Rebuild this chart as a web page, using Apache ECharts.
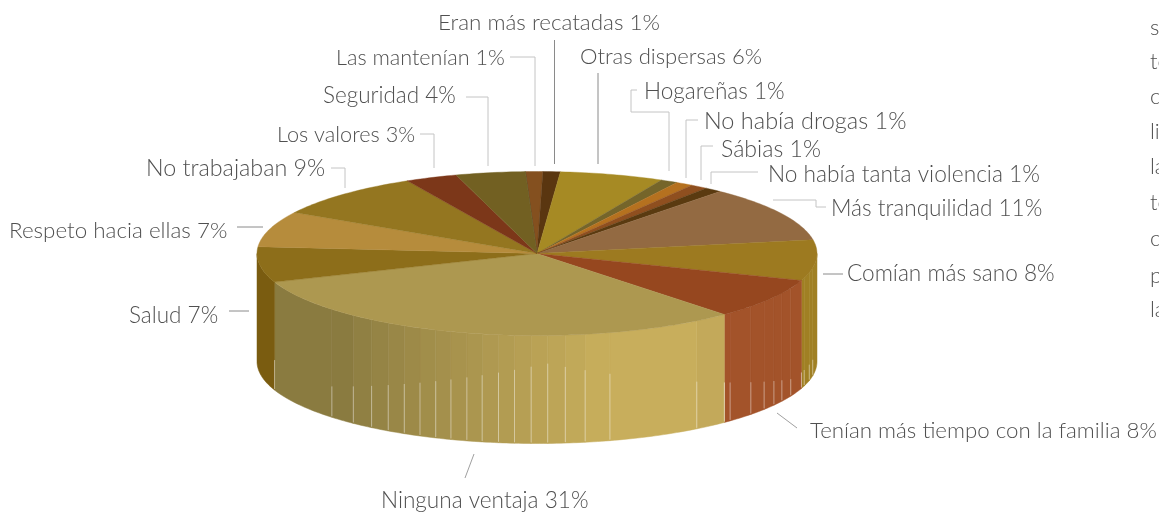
<!DOCTYPE html>
<html><head><meta charset="utf-8">
<style>html,body{margin:0;padding:0;background:#fff;overflow:hidden}#c{width:1159px;height:513px}</style>
<script src="https://cdn.jsdelivr.net/npm/echarts@6/dist/echarts.min.js"></script>
</head><body><div id="c"></div>
<script>
// ---- data (clockwise, starting just left of the top of the pie)
const categories = ['Las mantenían','Eran más recatadas','Otras dispersas','Hogareñas','No había drogas','Sábias','No había tanta violencia','Más tranquilidad','Comían más sano','Tenían más tiempo con la familia','Ninguna ventaja','Salud','Respeto hacia ellas','No trabajaban','Los valores','Seguridad'];
const percents = [1,1,6,1,1,1,1,11,8,8,31,7,7,9,3,4];
// ---- styles
const topColors = ['#84501f','#5a3610','#a68a24','#75652a','#b5711f','#8f4f1f','#5a3a10','#936a42','#9d7a20','#96471f','#ad9850','#8d6e1a','#b68c3c','#947620','#7c3719','#726022'];
const wallColors = ['#84501f','#5a3610','#a68a24','#75652a','#b5711f','#8f4f1f','#5a3a10','#936a42','#a08024','#a3532a',null,'#7a5c10','#b68c3c','#947620','#7c3719','#726022'];
// ---- 3D pie geometry
const CX=537, CY=253.5, RX=280, RY=82, DEPTH=108, START=-2.4;
const facetBreaks=[100,103.5,107.4,115,119,122.2,125.8,130.2,136.4,145.2,164.9,170.1,174.2,177.8,181.2,184.6,187.9,191.3,194.5,197.9,201.2,204.7,208.3,212.1,216.2,221,227.1];
// ---- label layout
const labelPos=[[336,58],[438,23],[580,57],[644,92],[704,121],[721,150],[768,175],[831,209],[847,274],[810,431],[381,501],[129,316],[9,231],[146,168],[277,135],[323,96]];
const labelSize=[21.6,22.4,22.1,22.6,23.5,23.1,22.7,22.6,22.6,22.3,22.6,22.5,22.4,23.3,21.7,22.5];
const leaders=[
 [[510,57],[535,57],[535,166],'#c4c4c4'],
 [[554.5,40],[554.5,164],'#8a8a8a'],
 [[598,73],[598,164],'#8a8a8a'],
 [[637,90],[631,90],[631,112],[669,112],[669,171],'#c4c4c4'],
 [[698,120],[686,120],[686,178],'#c4c4c4'],
 [[713,146],[701,146],[701,180],'#c4c4c4'],
 [[758,172],[711,172],[711,184],'#c4c4c4'],
 [[773,200],[816,200],[816,207],[826,207],'#c4c4c4'],
 [[823,274],[843,274],'#8a8a8a'],
 [[777,413],[797,428],'#a0a0a0'],
 [[474,454],[465,478],'#a0a0a0'],
 [[229,311],[249,311],'#8a8a8a'],
 [[237,227],[263,227],'#8a8a8a'],
 [[331,168],[345,168],[345,188],'#c4c4c4'],
 [[420,134],[434,134],[434,168],'#c4c4c4'],
 [[466,97],[488,97],[488,166],'#c4c4c4']
];
const clipped=[['s',28],['te',62],['c',97],['li',132],['la',167],['te',203],['c',239],['p',276],['la',310]];

const FONT='Lato';
const total=percents.reduce((a,b)=>a+b,0);
const rad=d=>d*Math.PI/180;
const pt=(t,dy=0)=>[CX+RX*Math.sin(rad(t)),CY-RY*Math.cos(rad(t))+dy];
function arc(a,b,dy=0){const n=Math.max(2,Math.ceil(Math.abs(b-a)));const r=[];for(let i=0;i<=n;i++)r.push(pt(a+(b-a)*i/n,dy));return r;}
function lerpHex(c1,c2,f){const p=c=>[1,3,5].map(i=>parseInt(c.substr(i,2),16));const a=p(c1),b=p(c2);return 'rgb('+a.map((v,i)=>Math.round(v+(b[i]-v)*f)).join(',')+')';}
function ningunaColor(t){
  if(t<146) return '#c3a95a';
  if(t<166) return '#c8ae5c';
  if(t>=227) return '#8a7b40';
  return lerpHex('#c8ae5c','#8a7b40',(t-166)/(224-166));
}
function wall(a,b,fill){
  const pts=arc(a,b).concat(arc(b,a,DEPTH));
  return {type:'polygon',shape:{points:pts},style:{fill:fill,stroke:fill,lineWidth:0.5}};
}
function renderItem(params,api){
  const i=params.dataIndex;
  let cum=0;for(let k=0;k<i;k++)cum+=percents[k];
  const a=START+cum/total*360,b=a+api.value(0)/total*360;
  const children=[];
  // side wall, front half only
  const wa=Math.max(a,90),wb=Math.min(b,270);
  if(wb>wa){
    const stops=[wa].concat(facetBreaks.filter(f=>f>wa&&f<wb),[wb]);
    for(let s=0;s<stops.length-1;s++){
      const fill=wallColors[i]||ningunaColor((stops[s]+stops[s+1])/2);
      children.push(wall(stops[s],stops[s+1],fill));
    }
    stops.slice(0,-1).concat(wb<270?[wb]:[]).forEach(t=>{
      if(t<=90)return;
      const L=Math.max(16,Math.max(30*(t>240?1:0),80-Math.abs(t-178)));
      const p=pt(t,DEPTH);
      children.push({type:'line',shape:{x1:p[0],y1:p[1]-L,x2:p[0],y2:p[1]-1},style:{stroke:'rgba(255,255,255,0.42)',lineWidth:1}});
    });
  }
  // top face
  const pts=[[CX,CY]].concat(arc(a,b));
  children.push({type:'polygon',shape:{points:pts},style:{fill:topColors[i],stroke:topColors[i],lineWidth:0.4}});
  if(i===0){const p=pt(a);children.push({type:'line',shape:{x1:CX,y1:CY,x2:p[0],y2:p[1]},style:{stroke:'#4a4a3a',lineWidth:0.7}});}
  return {type:'group',children};
}
const texts=categories.map((c,i)=>({type:'text',x:labelPos[i][0],y:labelPos[i][1],style:{text:c+' '+percents[i]+'%',font:'300 '+labelSize[i]+'px '+FONT,fill:'#505050',textAlign:'left',textVerticalAlign:'middle'}}));
const lines=leaders.map(l=>({type:'polyline',shape:{points:l.slice(0,-1)},style:{stroke:l[l.length-1],lineWidth:1,fill:null}}));
const cut=clipped.map(c=>({type:'text',x:1150,y:c[1],style:{text:c[0],font:'300 22px '+FONT,fill:'#505050',textAlign:'left',textVerticalAlign:'middle'}}));
const chart=echarts.init(document.getElementById('c'),null,{renderer:'canvas'});
chart.setOption({
  animation:false,
  backgroundColor:'#fff',
  series:[{type:'custom',coordinateSystem:'none',renderItem,silent:true,data:percents.map((v,i)=>({name:categories[i],value:[v]}))}],
  graphic:lines.concat(texts,cut)
});
</script></body></html>
